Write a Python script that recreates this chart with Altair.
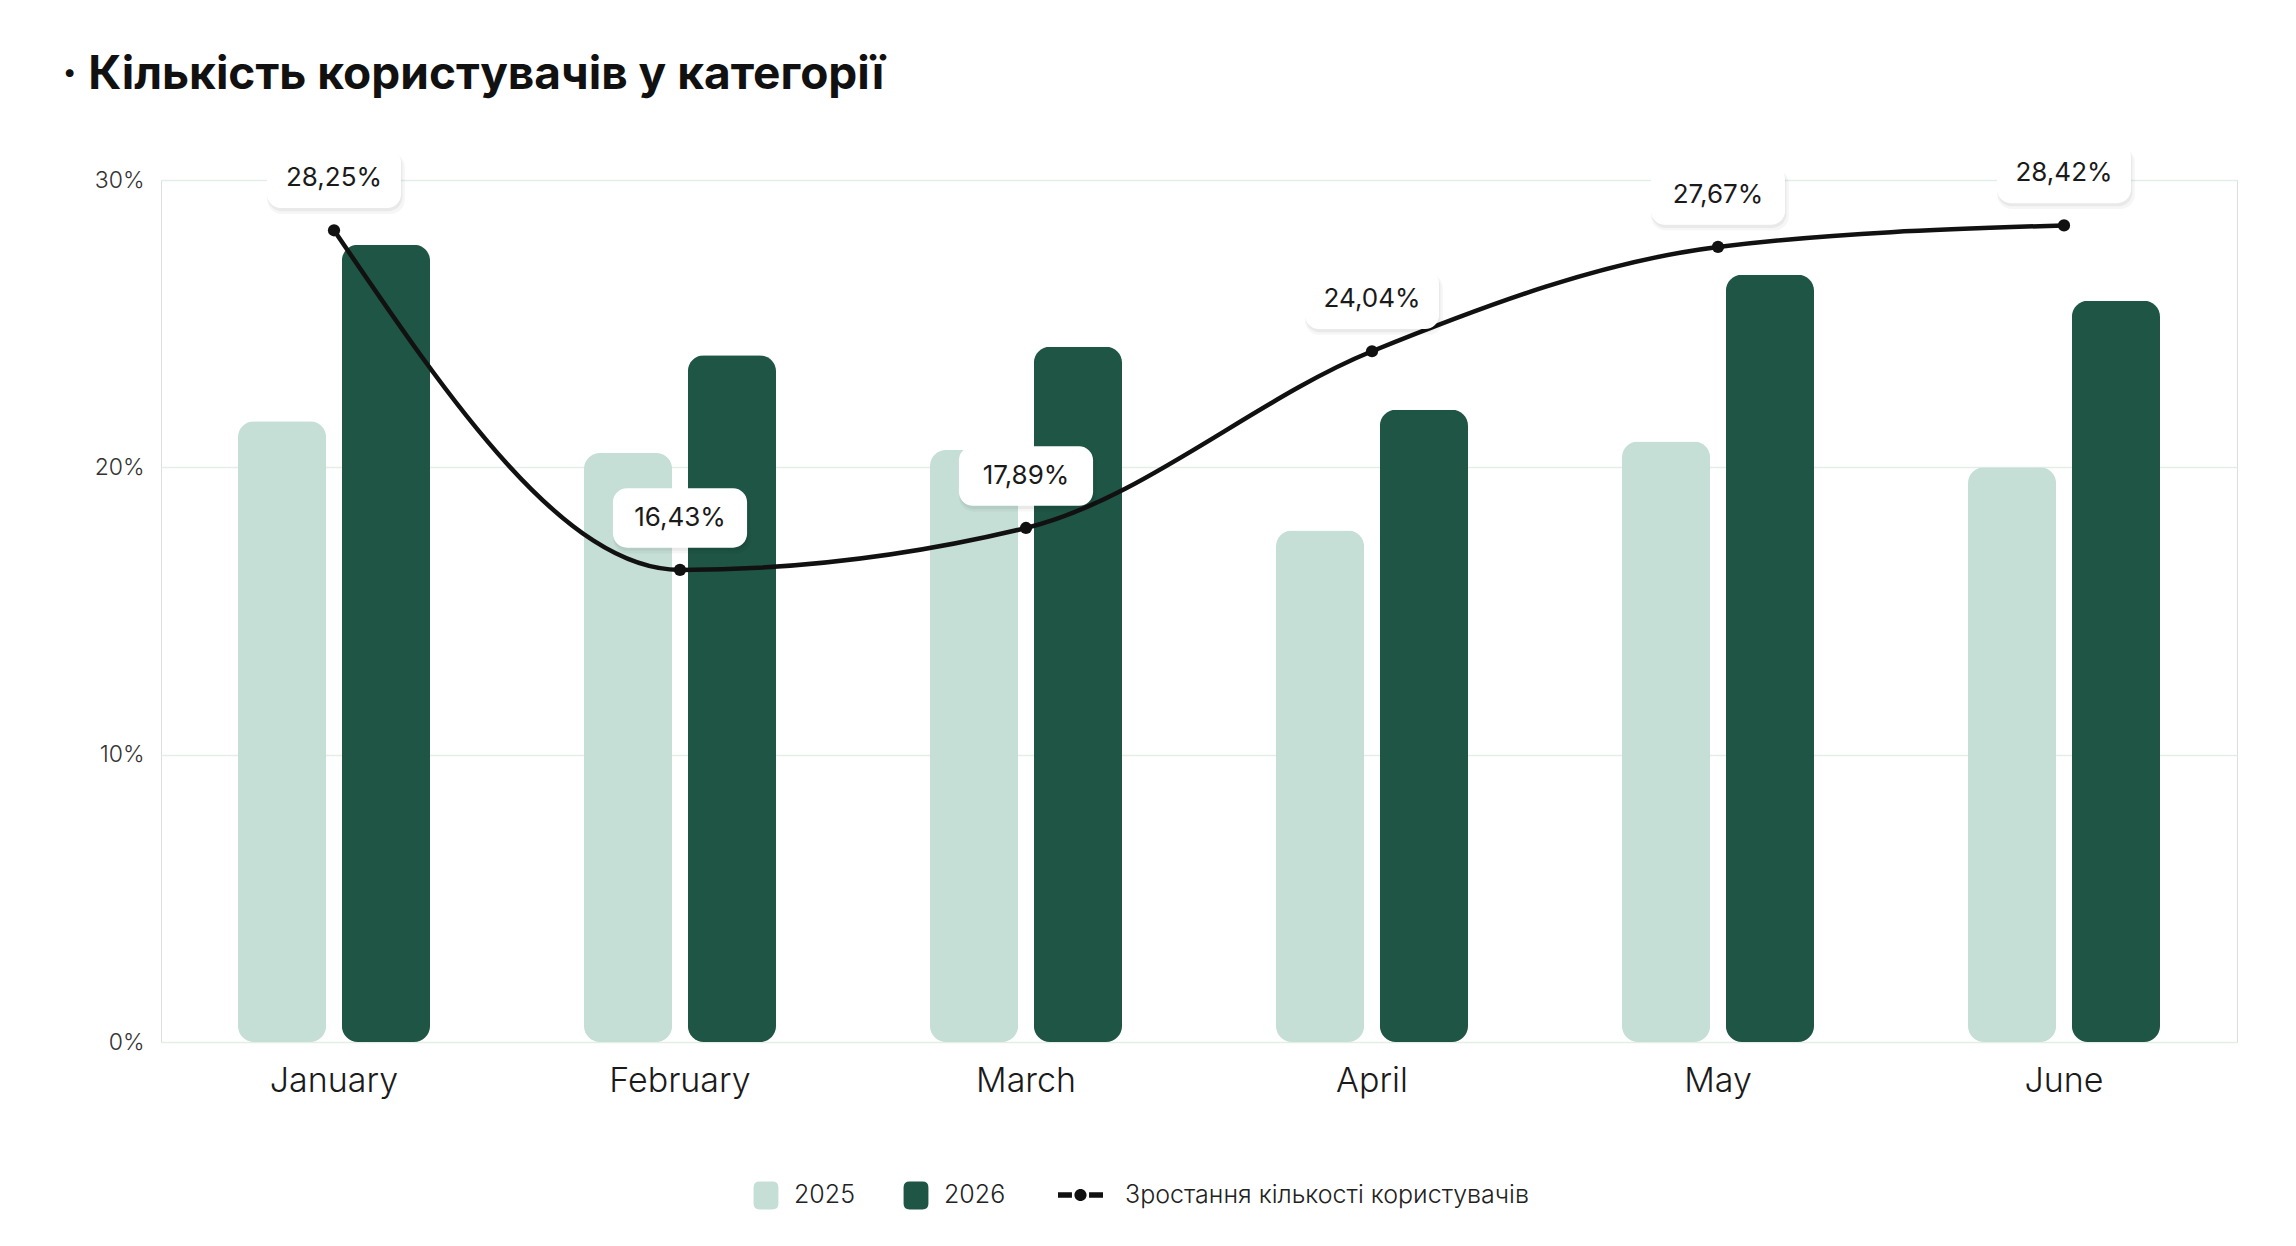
import altair as alt
import pandas as pd

months = ["January", "February", "March", "April", "May", "June"]
val_2025 = [21.6, 20.5, 20.6, 17.8, 20.9, 20.0]
val_2026 = [27.75, 23.9, 24.2, 22.0, 26.7, 25.8]
growth = [28.25, 16.43, 17.89, 24.04, 27.67, 28.42]
bar_series = ["2025", "2026"]
bar_colors = ["#c5dfd6", "#1f5545"]
line_name = "Зростання кількості користувачів"
line_color = "#111111"

bars_df = pd.DataFrame(
    [{"month": m, "series": "2025", "value": v} for m, v in zip(months, val_2025)]
    + [{"month": m, "series": "2026", "value": v} for m, v in zip(months, val_2026)]
)
line_df = pd.DataFrame({"month": months, "value": growth, "series": line_name})

FONT = "Inter"

x = alt.X("month:N", sort=months, title=None,
          scale=alt.Scale(paddingInner=0.445, paddingOuter=0.2225),
          axis=alt.Axis(labelFontSize=34, labelColor="#1a1a1a", labelFont=FONT,
                        labelFontWeight=300, labelPadding=22, ticks=False, domain=False,
                        grid=False, labelAngle=0))
y = alt.Y("value:Q", title=None,
          scale=alt.Scale(domain=[0, 30], nice=False),
          axis=alt.Axis(values=[0, 10, 20, 30], labelExpr="datum.value + '%'",
                        labelFontSize=23, labelColor="#333333", labelFont=FONT,
                        labelFontWeight=300, labelPadding=17, ticks=False, domain=False,
                        gridColor="#e3efe5", gridWidth=1.5))

bar_path = ("M-0.54,-0.35 Q-0.54,-0.61 -0.28,-0.61 L0.28,-0.61 Q0.54,-0.61 0.54,-0.35 "
            "L0.54,0.35 Q0.54,0.61 0.28,0.61 L-0.28,0.61 Q-0.54,0.61 -0.54,0.35 Z")
line_path = ("M-1,-0.12 L-0.38,-0.12 L-0.38,0.12 L-1,0.12 Z "
             "M0.38,-0.12 L1,-0.12 L1,0.12 L0.38,0.12 Z "
             "M-0.27,0 A0.27,0.27 0 1,0 0.27,0 A0.27,0.27 0 1,0 -0.27,0 Z")

bar_legend = alt.Legend(
    orient="none", legendX=582, legendY=992, direction="horizontal", title=None,
    labelFontSize=25, labelFont=FONT, labelColor="#222222", labelFontWeight=300,
    labelLimit=700, symbolSize=2116, symbolType=bar_path, labelOffset=5,
    columnPadding=38, padding=0, symbolStrokeWidth=0, symbolOpacity=1,
)
line_legend = alt.Legend(
    orient="none", legendX=897, legendY=992.5, direction="horizontal", title=None,
    labelFontSize=25, labelFont=FONT, labelColor="#222222", labelFontWeight=300,
    labelLimit=700, symbolSize=2025, labelOffset=22, padding=0,
    symbolStrokeWidth=0, symbolOpacity=1, symbolFillColor=line_color,
)

bars = alt.Chart(bars_df).mark_bar(cornerRadius=16).encode(
    x=x, y=y, xOffset=alt.XOffset("series:N", scale=alt.Scale(paddingInner=0.152, paddingOuter=0)),
    color=alt.Color("series:N", scale=alt.Scale(domain=bar_series, range=bar_colors), legend=bar_legend),
)

line = alt.Chart(line_df).mark_line(interpolate="monotone", strokeWidth=4.5, color=line_color).encode(
    x=x, y=y,
)

legend_layer = alt.Chart(line_df).transform_filter("false").mark_point(
    filled=True, color=line_color, opacity=1
).encode(
    x=x, y=y,
    shape=alt.Shape("series:N", scale=alt.Scale(domain=[line_name], range=[line_path]), legend=line_legend),
)

points = alt.Chart(line_df).mark_point(filled=True, size=150, opacity=1, color=line_color).encode(
    x=x, y=y,
)

box_path = ("M-1,-0.234 A0.21,0.21 0 0,1 -0.79,-0.444 L0.79,-0.444 A0.21,0.21 0 0,1 1,-0.234 "
            "L1,0.234 A0.21,0.21 0 0,1 0.79,0.444 L-0.79,0.444 A0.21,0.21 0 0,1 -1,0.234 Z")

shadow1 = alt.Chart(line_df).mark_point(shape=box_path, filled=True, size=19000,
                                        color="#000000", opacity=0.035, yOffset=-47, xOffset=2).encode(x=x, y=y)
shadow2 = alt.Chart(line_df).mark_point(shape=box_path, filled=True, size=18200,
                                        color="#000000", opacity=0.05, yOffset=-49, xOffset=1).encode(x=x, y=y)
boxes = alt.Chart(line_df).mark_point(shape=box_path, filled=True, size=18000,
                                      color="#ffffff", opacity=1, yOffset=-52).encode(x=x, y=y)

labels = alt.Chart(line_df).transform_calculate(
    lbl="replace(format(datum.value, '.2f'), '.', ',') + '%'"
).mark_text(font=FONT, fontSize=26, color="#1a1a1a", baseline="middle", align="center",
            dy=-52).encode(x=x, y=y, text="lbl:N")

chart = alt.layer(bars, line, legend_layer, points, shadow1, shadow2, boxes, labels).properties(
    width=2076, height=862,
    autosize=alt.AutoSizeParams(type="none"),
    padding={"left": 153, "top": 172, "right": 40, "bottom": 190},
    title=alt.TitleParams("·  Кількість користувачів у категорії", anchor="start", frame="group",
                          orient="top", dx=-99, offset=45, font=FONT, fontSize=46,
                          fontWeight=700, color="#111111"),
).resolve_legend(
    color="independent", shape="independent"
).configure_view(strokeWidth=0, stroke="transparent", strokeOpacity=0).configure(background="#ffffff")

chart.save("out.html", embed_options={"renderer": "svg", "actions": False})
